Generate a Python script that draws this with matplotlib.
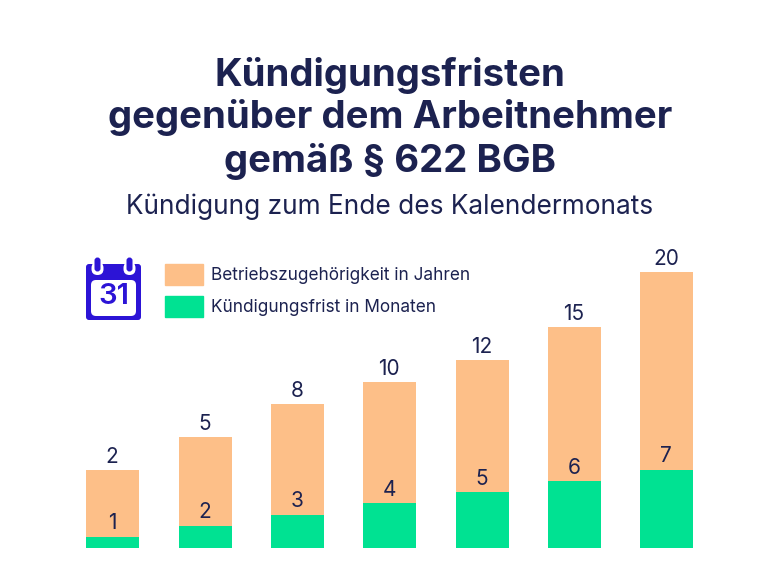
import matplotlib
matplotlib.use("Agg")
import matplotlib.pyplot as plt
from matplotlib.patches import FancyBboxPatch, Patch

years = [2, 5, 8, 10, 12, 15, 20]
months = [1, 2, 3, 4, 5, 6, 7]
year_legend = "Betriebszugehörigkeit in Jahren"
month_legend = "Kündigungsfrist in Monaten"
title_lines = ["Kündigungsfristen", "gegenüber dem Arbeitnehmer", "gemäß § 622 BGB"]
subtitle = "Kündigung zum Ende des Kalendermonats"

W, H = 780, 583
NAVY = "#1c2250"
ORANGE = "#fdbf88"
GREEN = "#00e292"
BLUE = "#2c14d6"
FONT = "Inter"
plt.rcParams["font.family"] = [FONT, "DejaVu Sans"]

fig = plt.figure(figsize=(W / 100, H / 100), dpi=100, facecolor="white")

# plot area in pixels
left, right, bottom, top = 66, 714, 548, 240
rect = [left / W, (H - bottom) / H, (right - left) / W, (bottom - top) / H]
ax_years = fig.add_axes(rect)
ax_months = fig.add_axes(rect)
spacing = 92.33
xlim = (-(112.8 - left) / spacing, (right - 112.8) / spacing)
x = list(range(len(years)))
bar_w = 0.574

# The source bars for years sit on a shifted baseline; months use a zero baseline.
year_px, year_base = 11.0, -56 / 11.0
month_px = 11.15
ax_years.set_ylim(year_base, year_base + (bottom - top) / year_px)
ax_months.set_ylim(0, (bottom - top) / month_px)

ax_years.bar(x, [y - year_base for y in years], bottom=year_base, width=bar_w, color=ORANGE)
ax_months.bar(x, months, width=bar_w, color=GREEN)

for ax in (ax_years, ax_months):
    ax.set_xlim(*xlim)
    ax.axis("off")
    ax.patch.set_alpha(0)

for i, v in zip(x, years):
    ax_years.annotate(str(v), (i, v), xytext=(-0.5, 2.5), textcoords="offset points",
                      ha="center", va="bottom", fontsize=15, color=NAVY)
for i, v in zip(x, months):
    ax_months.annotate(str(v), (i, v), xytext=(-0.5, 2.5), textcoords="offset points",
                       ha="center", va="bottom", fontsize=15, color=NAVY)

# Title
for line, py in zip(title_lines, [75, 118, 162]):
    fig.text(0.5, 1 - py / H, line, ha="center", va="center", fontsize=27.6,
             fontweight="bold", color=NAVY)
fig.text(0.5, 1 - 207 / H, subtitle, ha="center", va="center", fontsize=18.9, color=NAVY)

# Legend
fig.legend(handles=[Patch(color=ORANGE, label=year_legend), Patch(color=GREEN, label=month_legend)],
           loc="upper left", bbox_to_anchor=(165 / W, 1 - 264 / H), borderpad=0, borderaxespad=0,
           frameon=False, fontsize=12.4, handlelength=2.2, handleheight=1.5,
           handletextpad=0.45, labelspacing=0.645, labelcolor=NAVY)

# Calendar icon drawn in figure pixel coordinates
icon = fig.add_axes([0, 0, 1, 1], zorder=5)
icon.set_xlim(0, W)
icon.set_ylim(H, 0)
icon.axis("off")
icon.patch.set_alpha(0)
icon.add_patch(FancyBboxPatch((86, 264), 55, 56, boxstyle="round,pad=0,rounding_size=3",
                              fc=BLUE, ec="none"))
icon.add_patch(FancyBboxPatch((91, 280), 45, 36, boxstyle="round,pad=0,rounding_size=5",
                              fc="white", ec="none"))
for cx in (97.5, 129.5):
    icon.add_patch(FancyBboxPatch((cx - 6, 262), 12, 13, boxstyle="round,pad=0,rounding_size=6",
                                  fc="white", ec="none"))
    icon.add_patch(FancyBboxPatch((cx - 3, 257.5), 6, 14, boxstyle="round,pad=0,rounding_size=3",
                                  fc=BLUE, ec="none"))
icon.text(113.5, 297, "31", ha="center", va="center", fontsize=21, fontweight="semibold", color=BLUE)

fig.savefig("out.png", dpi=100)
